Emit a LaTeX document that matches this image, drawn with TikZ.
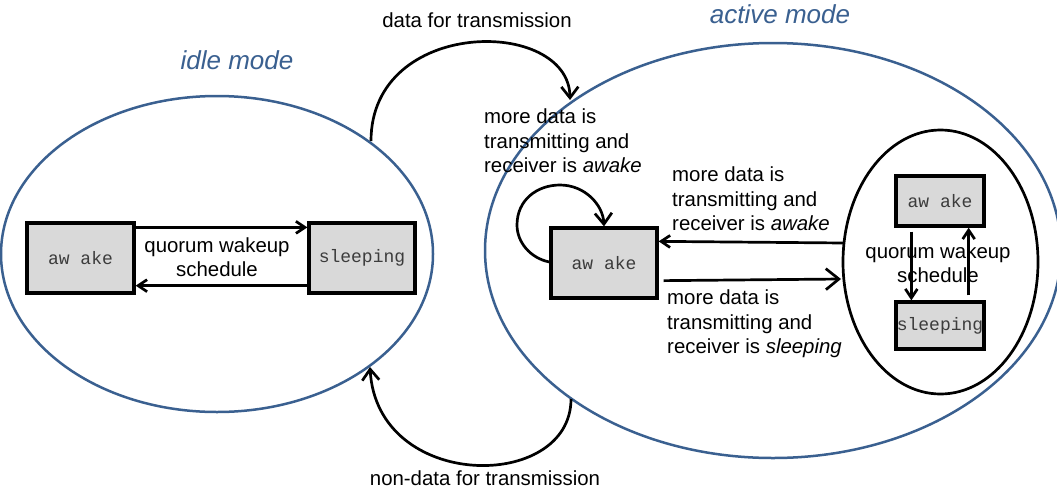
\documentclass[tikz,border=0pt]{standalone}
\usepackage{fontspec}
\setmainfont{Liberation Sans}
\newfontfamily\monof{Liberation Mono}
\usetikzlibrary{arrows.meta,shapes.geometric,calc}
\definecolor{modeblue}{HTML}{3A6090}
\definecolor{boxgray}{HTML}{D9D9D9}
\definecolor{monogray}{HTML}{3C3C3C}
\begin{document}
\begin{tikzpicture}[x=1pt,y=-1pt,
  mode/.style={draw=modeblue, line width=2.5pt, ellipse, inner sep=0pt},
  subring/.style={draw=black, line width=2.7pt, ellipse, inner sep=0pt},
  state/.style={draw=black, line width=3.3pt, fill=boxgray, inner sep=0pt,
    font=\monof\fontsize{18}{20}\selectfont, text=monogray},
  lbl/.style={inner sep=0pt, font=\fontsize{20.4}{24.5}\selectfont, align=left},
  clbl/.style={inner sep=0pt, font=\fontsize{20.4}{24.5}\selectfont, align=center},
  title/.style={inner sep=0pt, font=\itshape\fontsize{26}{30}\selectfont, text=modeblue},
  sbarb/.style={line width=2.7pt, -{Straight Barb[length=9pt,width=12pt]}},
  bbarb/.style={line width=2.7pt, -{Straight Barb[length=13pt,width=21pt]}},
  cbarb/.style={line width=2.7pt, -{Straight Barb[length=11pt,width=17pt]}}
]
\useasboundingbox (0,0) rectangle (1057,493);
\fill[white] (0,0) rectangle (1057,493);

% mode ellipses
\node[mode, minimum width=432pt, minimum height=316pt] (idle) at (217,254) {};
\node[mode, minimum width=576pt, minimum height=415pt] (active) at (773,250.5) {};
\node[subring, minimum width=195pt, minimum height=264pt] (inner) at (940.5,262) {};

% titles and labels
\node[title] (tidle) at (237,60) {idle mode};
\node[title] (tactive) at (780,14) {active mode};
\node[clbl] (ldata) at (477,20) {data for transmission};
\node[clbl] (lnon) at (485,478) {non-data for transmission};
\node[clbl] (lq1) at (217,257) {quorum wakeup\\schedule};
\node[lbl, anchor=west] (lself) at (484,141) {more data is\\transmitting and\\receiver is \textit{awake}};
\node[lbl, anchor=west] (lin) at (672,199) {more data is\\transmitting and\\receiver is \textit{awake}};
\node[lbl, anchor=west] (lout) at (667,324) {more data is\\transmitting and\\receiver is \textit{sleeping}};
\node[clbl] (lq2) at (938,263) {quorum wakeup\\schedule};

% state boxes
\node[state, minimum width=107pt, minimum height=70pt] (la) at (80.5,258) {aw ake};
\node[state, minimum width=106pt, minimum height=70pt] (ls) at (362,258) {sleeping};
\node[state, minimum width=106pt, minimum height=70pt] (ma) at (604,263) {aw ake};
\node[state, minimum width=88pt, minimum height=50pt] (ia) at (940,201) {aw ake};
\node[state, minimum width=88pt, minimum height=47pt] (is) at (940,325.5) {sleeping};

% idle-mode arrows
\draw[sbarb] ($(la.north east)+(0,6)$) -- ($(ls.north west)+(0,6)$);
\draw[sbarb] ($(ls.south west)+(0,-9)$) -- ($(la.south east)+(0,-9)$);

% inner arrows
\coordinate (d0) at ($(ia.south west)+(17,4)$);
\coordinate (u0) at ($(is.north east)+(-17,-5)$);
\draw[sbarb] (d0) -- (d0 |- is.north);
\draw[sbarb] (u0) -- (u0 |- ia.south);

% active-mode arrows
\coordinate (m1) at ($(ma.north east)+(0,15)$);
\coordinate (m2) at ($(ma.south east)+(5,-19)$);
\coordinate (e1) at (844,243);
\coordinate (e2) at (841,279);
\draw[sbarb] (e1) -- (m1);
\draw[bbarb] (m2) -- (e2);

% self loop
\coordinate (s0) at ($(ma.west)+(0,-1)$);
\coordinate (s1) at (ma.north);
\draw[cbarb] (s0) .. controls (530,258) and (517,242) .. (517,225)
  .. controls (517,200) and (537,185) .. (560,185)
  .. controls (585,185) and (603,205) .. (s1);

% mode transitions
\coordinate (t0) at (371,141);
\coordinate (t1) at (570,100);
\coordinate (b0) at (571,399);
\coordinate (b1) at (370,367);
\draw[cbarb] (t0) .. controls (371,17) and (569,17) .. (t1);
\draw[cbarb] (b0) .. controls (571,492) and (377,492) .. (b1);
\end{tikzpicture}
\end{document}
